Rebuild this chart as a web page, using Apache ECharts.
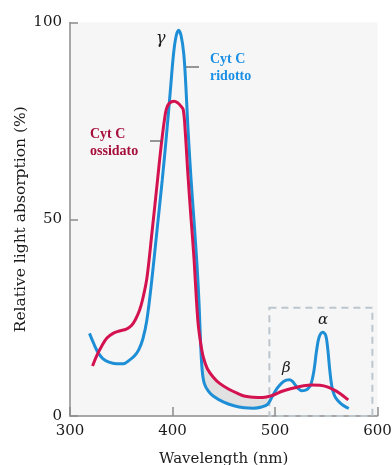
<!DOCTYPE html>
<html>
<head>
<meta charset="utf-8">
<title>Cytochrome c absorption spectra</title>
<script src="https://cdn.jsdelivr.net/npm/echarts@6/dist/echarts.min.js"></script>
<style>
  html, body { margin: 0; padding: 0; background: #ffffff; }
  #chart { width: 392px; height: 465px; }
</style>
</head>
<body>
<div id="chart"></div>
<script>
// Reduced cytochrome c (Cyt C ridotto): wavelength (nm) and relative absorption (%)
const reducedWavelength = [319, 323, 327, 332, 338, 345, 352, 358, 363, 367, 371, 375, 380, 385, 390, 394, 398, 401, 403.5, 406, 408.5, 411, 413, 414.5, 416, 418, 421, 424, 426, 427.5, 429, 431, 435, 440, 450, 460, 470, 479, 487, 493, 497, 502, 507, 511, 514, 517, 520, 523, 526, 529, 532, 535, 538, 540.5, 543, 546.5, 549.5, 551.5, 553.5, 555.5, 558, 561, 566, 572];
const reducedAbsorption = [21, 18.5, 16.3, 14.6, 13.7, 13.3, 13.3, 14.2, 15.3, 16.8, 19.5, 24.4, 35, 47.5, 60, 71, 83, 92, 96.5, 98, 96.5, 92, 84, 76, 69, 60.5, 49.5, 38, 28, 18, 11.5, 8.3, 6.3, 5, 3.5, 2.6, 2.1, 2.0, 2.3, 3.0, 4.8, 7.0, 8.5, 9.1, 9.2, 8.8, 7.8, 6.9, 6.4, 6.5, 6.9, 8.0, 11.5, 16.5, 20, 21.3, 20.5, 17, 11.5, 7.5, 5.2, 4.0, 2.8, 1.9];

// Oxidized cytochrome c (Cyt C ossidato)
const oxidizedWavelength = [322, 326, 331, 336, 342, 348, 355, 360, 364, 368, 371, 375, 380, 385, 388, 390, 392, 394, 397, 401.5, 405, 408, 410.5, 412.5, 415, 418, 421, 423, 425, 427.5, 430, 434, 440, 446, 455, 463, 471, 479, 488, 497, 507, 518, 528, 536, 544, 551, 557, 563, 568, 571.5];
const oxidizedAbsorption = [12.7, 15.3, 17.8, 19.8, 21, 21.6, 22.1, 23, 24.6, 27, 29.8, 35, 46.7, 59, 66.5, 71, 75, 78, 79.5, 80, 79.6, 78.8, 77.8, 72, 61.5, 50.5, 40, 31, 23.5, 18.5, 15, 12, 9.8, 8.3, 6.8, 5.8, 5.0, 4.75, 4.7, 5.2, 6.3, 7.1, 7.7, 7.9, 7.8, 7.4, 6.7, 5.8, 4.8, 4.1];

// Axis ticks
const wavelengthTicks = [300, 400, 500, 600];
const absorptionTicks = [0, 50, 100];

// Shaded gap between the two spectra after the Soret band
const bandRange = [425, 497];
// Dashed frame around the alpha/beta region: [wavelength], [absorption]
const zoomFrameWavelength = [494.5, 595];
const zoomFrameAbsorption = [0, 27.5];

const BLUE = '#1e8fd6';
const RED = '#d3124f';
const AXIS = '#8c8c8c';
const SERIF = '"DejaVu Serif", "Liberation Serif", serif';
const LABEL_SERIF = '"Liberation Serif", "DejaVu Serif", serif';

const pairs = (xs, ys) => xs.map((x, i) => [x, ys[i]]);
const reducedData = pairs(reducedWavelength, reducedAbsorption);
const oxidizedData = pairs(oxidizedWavelength, oxidizedAbsorption);

const chart = echarts.init(document.getElementById('chart'), null, { renderer: 'canvas' });

const axisCommon = {
  type: 'value',
  axisLine: { show: true, lineStyle: { color: AXIS, width: 1.5 } },
  axisTick: { show: true, inside: true, lineStyle: { color: AXIS, width: 1.5 } },
  splitLine: { show: false },
  axisLabel: { color: '#1a1a1a', fontFamily: SERIF, fontSize: 15, margin: 8 },
  nameLocation: 'middle',
  nameMoveOverlap: false,
  nameTextStyle: { color: '#1a1a1a', fontFamily: SERIF }
};

chart.setOption({
  animation: false,
  backgroundColor: '#ffffff',
  grid: {
    left: 70, right: 14.5, top: 22.5, bottom: 49,
    containLabel: false,
    outerBoundsMode: 'none',
    show: true, backgroundColor: '#f6f6f6', borderWidth: 0
  },
  xAxis: Object.assign({}, axisCommon, {
    min: wavelengthTicks[0],
    max: wavelengthTicks[wavelengthTicks.length - 1],
    interval: wavelengthTicks[1] - wavelengthTicks[0],
    axisTick: Object.assign({}, axisCommon.axisTick, { length: 9 }),
    name: 'Wavelength (nm)',
    nameGap: 36,
    nameTextStyle: Object.assign({}, axisCommon.nameTextStyle, { fontSize: 15 })
  }),
  yAxis: Object.assign({}, axisCommon, {
    min: absorptionTicks[0],
    max: absorptionTicks[absorptionTicks.length - 1],
    interval: absorptionTicks[1] - absorptionTicks[0],
    axisTick: Object.assign({}, axisCommon.axisTick, { length: 8 }),
    name: 'Relative light absorption (%)',
    nameGap: 41,
    nameTextStyle: Object.assign({}, axisCommon.nameTextStyle, { fontSize: 15.5 })
  }),
  series: [
    {
      // gray fill between oxidized (above) and reduced (below) spectra
      type: 'custom',
      silent: true,
      z: 1,
      data: [[bandRange[0], 0]],
      renderItem: function (params, api) {
        const upper = oxidizedData.filter(p => p[0] >= bandRange[0] && p[0] <= bandRange[1]);
        const lower = reducedData.filter(p => p[0] >= bandRange[0] + 1 && p[0] <= bandRange[1]);
        const pts = upper.map(p => api.coord(p)).concat(lower.slice().reverse().map(p => api.coord(p)));
        return {
          type: 'polygon',
          shape: { points: pts, smooth: 0.2 },
          style: { fill: '#e1e1e1' }
        };
      },
      markArea: {
        silent: true,
        itemStyle: {
          color: 'rgba(0,0,0,0)',
          borderColor: '#bcc6cd',
          borderWidth: 2,
          borderType: [7, 5]
        },
        data: [[
          { coord: [zoomFrameWavelength[0], zoomFrameAbsorption[1]] },
          { coord: [zoomFrameWavelength[1], zoomFrameAbsorption[0]] }
        ]]
      }
    },
    {
      name: 'Cyt C ridotto',
      type: 'line',
      z: 3,
      data: reducedData,
      smooth: 0.35,
      showSymbol: false,
      lineStyle: { color: BLUE, width: 3 }
    },
    {
      name: 'Cyt C ossidato',
      type: 'line',
      z: 4,
      data: oxidizedData,
      smooth: 0.35,
      showSymbol: false,
      lineStyle: { color: RED, width: 3 }
    }
  ],
  graphic: [
    // Band labels
    { type: 'text', left: 156, top: 31, z: 10,
      style: { text: 'γ', font: 'italic 16px ' + SERIF, fill: '#1a1a1a' } },
    { type: 'text', left: 282, top: 361, z: 10,
      style: { text: 'β', font: 'italic 15px ' + SERIF, fill: '#1a1a1a' } },
    { type: 'text', left: 318, top: 313, z: 10,
      style: { text: 'α', font: 'italic 15px ' + SERIF, fill: '#1a1a1a' } },
    // Series captions
    { type: 'text', left: 210, top: 51, z: 10,
      style: { text: 'Cyt C\nridotto', font: 'bold 14px ' + LABEL_SERIF, fill: '#1a8fe6', lineHeight: 17 } },
    { type: 'text', left: 90, top: 126, z: 10,
      style: { text: 'Cyt C\nossidato', font: 'bold 14px ' + LABEL_SERIF, fill: '#a60f3b', lineHeight: 17, align: 'left' } },
    // Leader lines
    { type: 'line', z: 10, shape: { x1: 186, y1: 67, x2: 199, y2: 67 },
      style: { stroke: '#555555', lineWidth: 1.2 } },
    { type: 'line', z: 10, shape: { x1: 150, y1: 141, x2: 162, y2: 141 },
      style: { stroke: '#555555', lineWidth: 1.2 } }
  ]
});
</script>
</body>
</html>
